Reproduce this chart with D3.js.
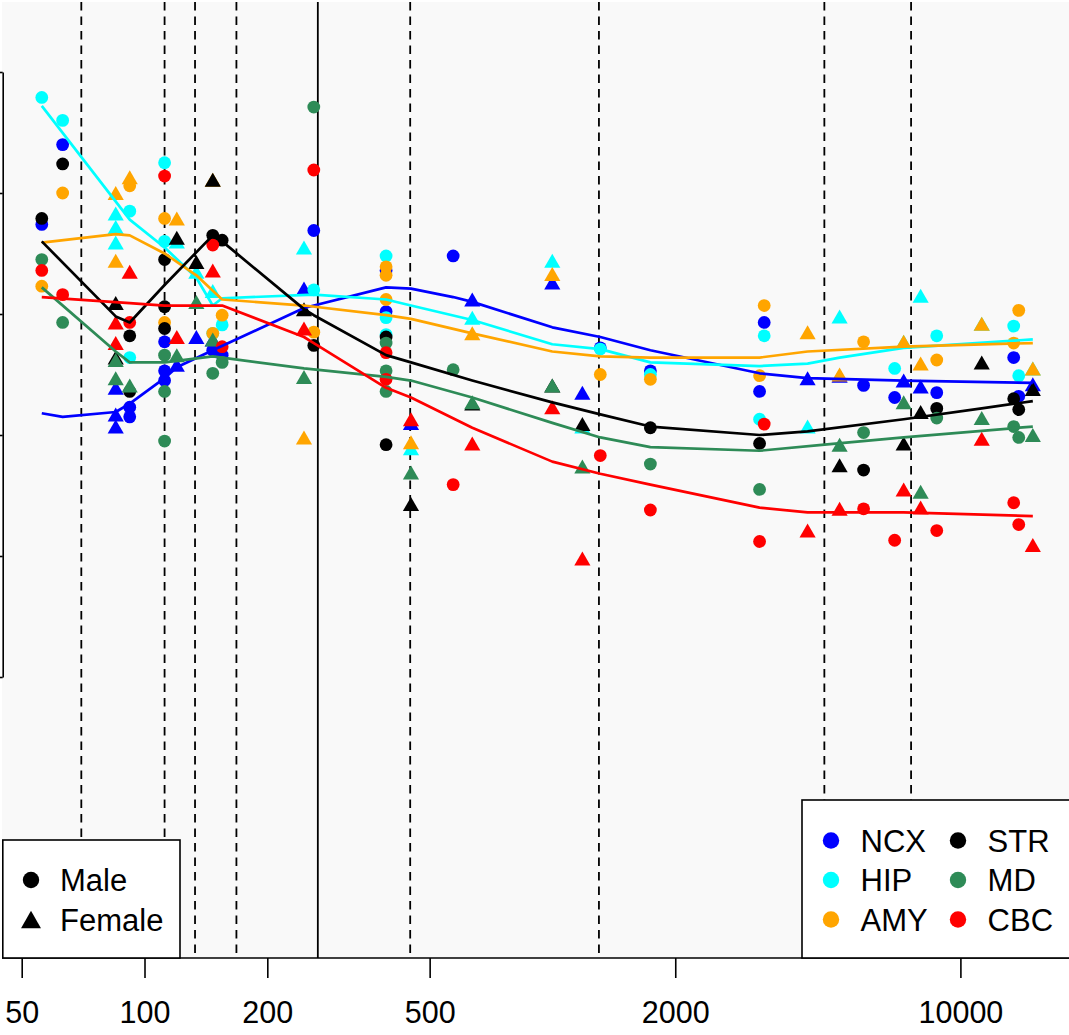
<!DOCTYPE html>
<html>
<head>
<meta charset="utf-8">
<script src="https://cdn.jsdelivr.net/npm/d3@7"></script>
<style>
  body { margin: 0; background: #fff; }
  svg { display: block; }
  text { font-family: "Liberation Sans", Arimo, Helvetica, Arial, sans-serif; fill: #000; }
</style>
</head>
<body>
<svg id="chart"></svg>
<script>
// age in post-conception days (log axis), expression value on y
const xTicks = [50, 100, 200, 500, 2000, 10000];
const yTicks = [2, 3, 4, 5, 6, 7];
const periodBreaks = [70, 112, 133, 168, 448, 1300, 4640, 7570];
const birthAge = 266;

const regions = ["NCX", "HIP", "AMY", "STR", "MD", "CBC"];
const sexes = ["Male", "Female"];

// samples per region: [age, value]
const ncxMale = [[56,5.74],[63,6.40],[92,4.23],[92,4.15],[112,4.77],[112,4.53],[112,4.45],[147,4.70],[155,4.66],[260,5.69],[391,5.36],[391,5.02],[571,5.48],[1310,4.72],[1738,4.53],[3219,4.36],[3304,4.93],[5790,4.41],[6900,4.31],[8750,4.35],[13510,4.64],[13900,4.32]];
const ncxFemale = [[85,4.39],[85,4.17],[85,4.07],[120,4.58],[134,4.81],[147,4.79],[246,5.21],[450,4.10],[636,5.12],[999,5.26],[1184,4.35],[4221,4.47],[5057,4.49],[7260,4.45],[7990,4.40],[15050,4.42]];
const hipMale = [[56,6.79],[63,6.60],[92,5.85],[92,4.64],[112,6.25],[112,5.60],[147,4.84],[155,4.91],[260,5.20],[391,5.48],[391,4.97],[391,4.83],[1310,4.71],[1738,4.50],[3219,4.13],[3304,4.82],[6900,4.55],[8750,4.82],[13510,4.90],[13900,4.49]];
const hipFemale = [[85,5.83],[85,5.72],[85,5.59],[120,5.60],[134,5.35],[147,5.19],[246,5.55],[450,3.89],[636,4.97],[999,5.44],[1184,4.07],[4221,4.07],[5057,4.98],[7260,4.77],[7990,5.15],[11280,4.92],[15050,4.55]];
const amyMale = [[56,5.23],[63,6.00],[92,6.06],[112,5.79],[112,4.93],[147,4.84],[155,4.99],[260,4.85],[391,5.39],[391,5.32],[391,5.12],[1310,4.50],[1738,4.46],[3219,4.49],[3304,5.07],[5790,4.77],[8750,4.62],[13510,4.76],[13900,5.03]];
const amyFemale = [[85,6.00],[85,5.44],[92,6.13],[120,5.79],[147,6.11],[246,3.98],[450,3.94],[636,4.84],[999,5.33],[4221,4.85],[5057,4.50],[7260,4.77],[7990,4.59],[11280,4.92],[15050,4.55]];
const strMale = [[56,5.79],[63,6.24],[92,4.82],[92,4.36],[112,5.45],[112,5.06],[112,4.88],[147,5.65],[155,5.61],[260,4.74],[391,4.81],[391,3.92],[1738,4.06],[3219,3.93],[5790,3.71],[8750,4.22],[13510,4.30],[13900,4.21]];
const strFemale = [[85,5.09],[85,4.64],[120,5.63],[134,5.43],[147,6.11],[246,5.04],[450,3.43],[636,4.26],[999,4.41],[1184,4.09],[5057,3.75],[7260,3.93],[7990,4.19],[11280,4.60],[15050,4.38]];
const mdMale = [[56,5.45],[63,4.93],[112,4.66],[112,4.36],[112,3.95],[147,4.51],[155,4.60],[260,6.71],[391,4.76],[391,4.53],[391,4.36],[571,4.54],[1738,3.76],[3219,3.55],[5790,4.02],[8750,4.14],[13510,4.07],[13900,3.98]];
const mdFemale = [[85,4.62],[85,4.47],[92,4.41],[120,4.66],[134,5.10],[147,4.79],[246,4.48],[450,3.69],[636,4.27],[999,4.41],[1184,3.74],[5057,3.92],[7260,4.27],[7990,3.53],[11280,4.14],[15050,4.00]];
const cbcMale = [[56,5.36],[63,5.16],[92,4.93],[112,6.14],[147,5.57],[155,4.73],[260,6.19],[391,4.68],[391,4.46],[571,3.59],[1310,3.83],[1738,3.38],[3219,3.12],[3304,4.09],[5790,3.39],[6900,3.13],[8750,3.21],[13510,3.44],[13900,3.26]];
const cbcFemale = [[85,4.93],[85,4.76],[92,5.35],[120,4.81],[147,5.36],[246,4.88],[450,4.13],[636,3.93],[999,4.23],[1184,2.98],[4221,3.21],[5057,3.39],[7260,3.55],[7990,3.40],[11280,3.97],[15050,3.09]];

// smoothed trend per region: [age, value]
const ncxFit = [[56,4.18],[63,4.15],[85,4.19],[92,4.26],[112,4.47],[120,4.56],[147,4.70],[246,5.05],[391,5.22],[450,5.21],[571,5.14],[636,5.10],[999,4.89],[1310,4.81],[1738,4.70],[3219,4.51],[4221,4.47],[7260,4.45],[15050,4.43]];
const hipFit = [[56,6.72],[92,5.78],[112,5.55],[134,5.30],[147,5.07],[155,5.13],[260,5.16],[391,5.12],[450,5.07],[636,4.95],[999,4.75],[1310,4.71],[1738,4.60],[3219,4.57],[4221,4.59],[5057,4.64],[7260,4.72],[15050,4.79]];
const amyFit = [[56,5.59],[85,5.66],[92,5.65],[112,5.50],[134,5.32],[155,5.12],[246,5.07],[391,4.99],[450,4.96],[636,4.84],[999,4.69],[1310,4.65],[1738,4.64],[3219,4.64],[4221,4.69],[7260,4.73],[15050,4.76]];
const strFit = [[56,5.60],[85,4.98],[92,4.93],[112,5.24],[147,5.65],[155,5.60],[246,5.04],[260,4.99],[391,4.66],[450,4.60],[636,4.45],[999,4.27],[1310,4.17],[1738,4.07],[3219,4.00],[4221,4.03],[7260,4.13],[11280,4.22],[15050,4.28]];
const mdFit = [[56,5.22],[85,4.69],[92,4.60],[112,4.60],[147,4.65],[155,4.64],[246,4.55],[391,4.48],[450,4.45],[636,4.31],[999,4.10],[1310,3.98],[1738,3.90],[3219,3.87],[4645,3.92],[7260,3.98],[15050,4.07]];
const cbcFit = [[56,5.14],[92,5.09],[112,5.07],[155,5.07],[246,4.81],[260,4.76],[391,4.39],[450,4.31],[636,4.06],[999,3.78],[1310,3.68],[1738,3.59],[3219,3.40],[4221,3.36],[7260,3.36],[15050,3.33]];

const males = [ncxMale, hipMale, amyMale, strMale, mdMale, cbcMale];
const females = [ncxFemale, hipFemale, amyFemale, strFemale, mdFemale, cbcFemale];
const fits = [ncxFit, hipFit, amyFit, strFit, mdFit, cbcFit];
const colors = ["#0000ff", "#00ffff", "#ffa500", "#000000", "#2e8b57", "#ff0000"];

const width = 1069, height = 1035;
const plotTop = 2, plotBottom = 958;

const svg = d3.select("#chart")
    .attr("width", width)
    .attr("height", height)
    .attr("viewBox", `0 0 ${width} ${height}`);

const x = d3.scaleLog().domain([50, 10000]).range([21.7, 960.4]);
const y = d3.scaleLinear().domain([2, 7]).range([677, 72]);

// triangle like R pch 17, centred on its box
function triangle(r0) {
  const h = 1.1667 * r0, xc = 1.3468 * r0;
  return `M0,${-h}L${xc},${h}L${-xc},${h}Z`;
}

// plot background
svg.append("rect")
    .attr("x", 2).attr("y", plotTop)
    .attr("width", width - 2).attr("height", plotBottom - plotTop)
    .attr("fill", "#f9f9f9");

// developmental period lines
svg.selectAll("line.period")
  .data(periodBreaks)
  .enter()
  .append("line")
    .attr("class", "period")
    .attr("x1", d => x(d)).attr("x2", d => x(d))
    .attr("y1", plotTop).attr("y2", plotBottom)
    .attr("stroke", "#000")
    .attr("stroke-width", 1.8)
    .attr("stroke-dasharray", "8.5,6");

svg.append("line")
    .attr("x1", x(birthAge)).attr("x2", x(birthAge))
    .attr("y1", plotTop).attr("y2", plotBottom)
    .attr("stroke", "#000")
    .attr("stroke-width", 1.8);

// samples
const pts = svg.append("g");
regions.forEach((r, i) => {
  pts.selectAll(null)
    .data(males[i])
    .enter()
    .append("circle")
      .attr("cx", d => x(d[0]))
      .attr("cy", d => y(d[1]))
      .attr("r", 6.4)
      .attr("fill", colors[i]);

  pts.selectAll(null)
    .data(females[i])
    .enter()
    .append("path")
      .attr("d", triangle(6.0))
      .attr("transform", d => `translate(${x(d[0])},${y(d[1])})`)
      .attr("fill", colors[i]);
});

// trend lines
const line = d3.line()
    .x(d => x(d[0]))
    .y(d => y(d[1]));

regions.forEach((r, i) => {
  svg.append("path")
    .datum(fits[i])
    .attr("fill", "none")
    .attr("stroke", colors[i])
    .attr("stroke-width", 2.7)
    .attr("stroke-linejoin", "round")
    .attr("d", line);
});

// axes
const yAxis = svg.append("g")
    .attr("transform", "translate(2.7,0)")
    .call(d3.axisLeft(y).tickValues(yTicks).tickSize(8).tickSizeOuter(0).tickFormat(""));
yAxis.selectAll("path, line").attr("stroke", "#000").attr("stroke-width", 1.6);

svg.append("line")
    .attr("x1", 2).attr("x2", width)
    .attr("y1", plotBottom).attr("y2", plotBottom)
    .attr("stroke", "#000")
    .attr("stroke-width", 1.6);

const xAxis = svg.append("g")
    .attr("transform", `translate(0,${plotBottom})`)
    .call(d3.axisBottom(x).tickValues(xTicks).tickSize(20).tickSizeOuter(0).tickFormat(d3.format("d")));
xAxis.select(".domain").remove();
xAxis.selectAll("line").attr("stroke", "#000").attr("stroke-width", 1.6);
xAxis.selectAll("text")
    .attr("y", 65)
    .attr("dy", 0)
    .attr("font-size", "30.5px")
    .attr("font-family", null);

// --- Sex legend ---
const sexLegend = svg.append("g");
sexLegend.append("rect")
    .attr("x", 2.8).attr("y", 840)
    .attr("width", 177.2).attr("height", plotBottom - 840)
    .attr("fill", "#fff")
    .attr("stroke", "#000")
    .attr("stroke-width", 1.6);

const rowGap = 39.5;
sexes.forEach((s, i) => {
  const cy = 880 + i * rowGap;
  if (i === 0) {
    sexLegend.append("circle").attr("cx", 31).attr("cy", cy).attr("r", 8.2).attr("fill", "#000");
  } else {
    sexLegend.append("path").attr("d", triangle(7.4))
      .attr("transform", `translate(31,${cy})`).attr("fill", "#000");
  }
  sexLegend.append("text")
    .attr("x", 60).attr("y", cy).attr("dy", "0.36em")
    .attr("font-size", "31px")
    .text(s);
});

// --- Region legend ---
const regionLegend = svg.append("g");
regionLegend.append("rect")
    .attr("x", 802).attr("y", 800)
    .attr("width", 320).attr("height", plotBottom - 800)
    .attr("fill", "#fff")
    .attr("stroke", "#000")
    .attr("stroke-width", 1.6);

regions.forEach((r, i) => {
  const col = Math.floor(i / 3), row = i % 3;
  const cx = 831 + col * 127;
  const cy = 840.5 + row * rowGap;
  regionLegend.append("circle").attr("cx", cx).attr("cy", cy).attr("r", 8.2).attr("fill", colors[i]);
  regionLegend.append("text")
    .attr("x", cx + 29.6).attr("y", cy).attr("dy", "0.36em")
    .attr("font-size", "31px")
    .text(r);
});
</script>
</body>
</html>
